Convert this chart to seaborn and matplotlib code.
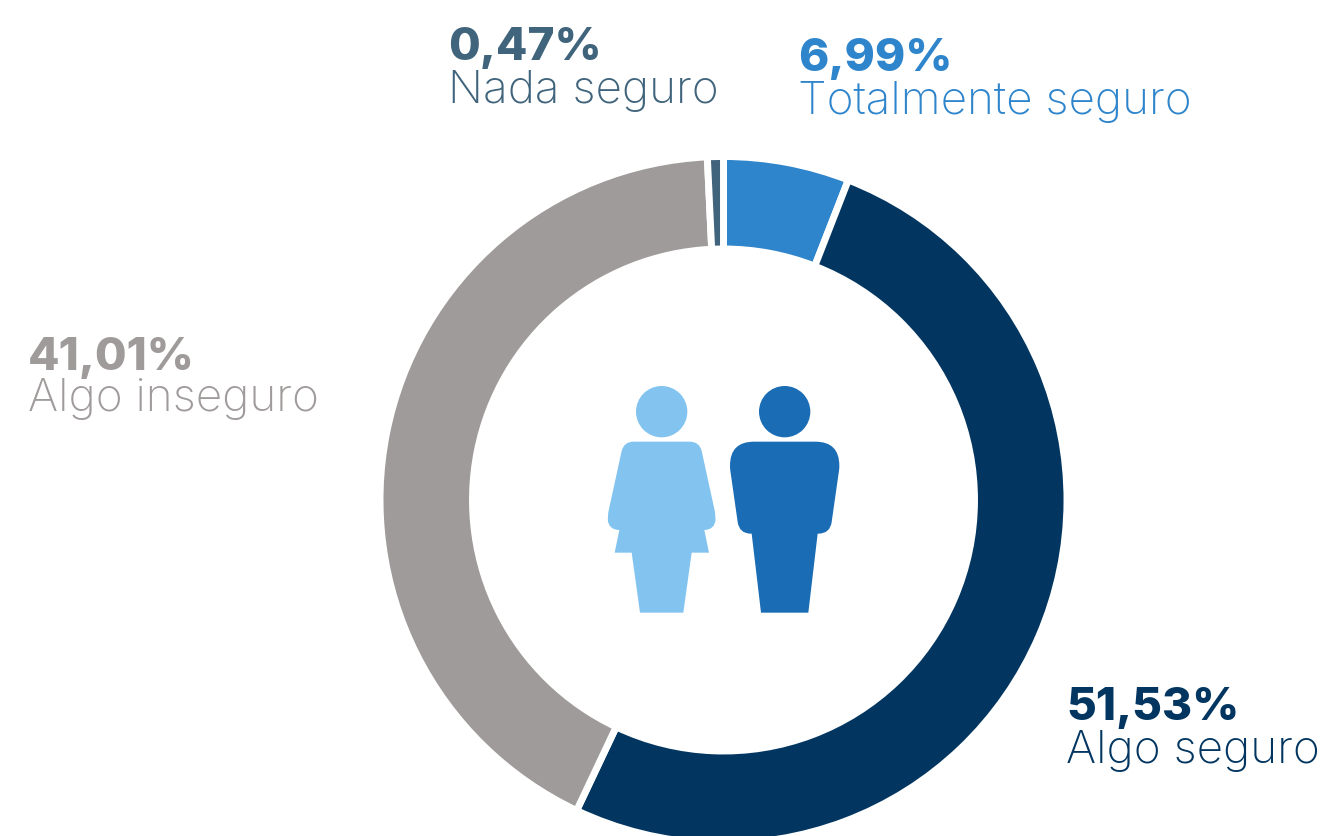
import numpy as np
import matplotlib
matplotlib.use('Agg')
import matplotlib.pyplot as plt
import seaborn as sns
from matplotlib.path import Path
from matplotlib.patches import PathPatch, Circle

# valores rotulados no grafico
categorias = ['Totalmente seguro', 'Algo seguro', 'Algo inseguro', 'Nada seguro']
rotulos = ['6,99%', '51,53%', '41,01%', '0,47%']
# tamanho dos arcos medido na figura (o original nao segue exatamente os rotulos)
arcos = [5.92, 51.11, 42.22, 0.75]
cores = ['#2E85CC', '#023660', '#9F9B9A', '#40647C']

W, H = 1337, 836
sns.set_theme(style='white')
plt.rcParams['font.family'] = ['Inter', 'DejaVu Sans']

fig = plt.figure(figsize=(W / 100, H / 100), dpi=100)
ax = fig.add_axes([0, 0, 1, 1])


def yy(y):
    # coordenadas em pixels da imagem, com y para baixo
    return H - y


wedges, _ = ax.pie(arcos, colors=sns.color_palette(cores), startangle=90, counterclock=False,
                   radius=343.5, center=(723.5, yy(500)),
                   wedgeprops={'width': 92.5, 'edgecolor': 'white', 'linewidth': 5})
ax.set_xlim(0, W)
ax.set_ylim(0, H)
ax.set_aspect('equal')
ax.axis('off')


def contorno(pts, x0=580, y0=370):
    """Poligono com cantos arredondados; pts = (x, y, raio) em pixels do zoom 3x"""
    p = np.array([[x0 + a / 3, yy(y0 + b / 3)] for a, b, _ in pts])
    rs = [r / 3 for _, _, r in pts]
    verts, codes = [], []
    n = len(p)
    for i in range(n):
        prev, cur, nxt = p[i - 1], p[i], p[(i + 1) % n]
        a = cur + (prev - cur) / np.linalg.norm(prev - cur) * rs[i]
        b = cur + (nxt - cur) / np.linalg.norm(nxt - cur) * rs[i]
        verts.append(a)
        codes.append(Path.MOVETO if i == 0 else Path.LINETO)
        verts += [cur, b]
        codes += [Path.CURVE3, Path.CURVE3]
    verts.append(verts[0])
    codes.append(Path.CLOSEPOLY)
    return Path(verts, codes)


mulher = [(131, 215, 30), (359, 215, 30), (408, 440, 20), (404, 480, 32), (373, 480, 0),
          (387, 548, 0), (335, 548, 0), (310, 728, 0), (180, 728, 0), (155, 548, 0),
          (104, 548, 0), (118, 480, 0), (86, 480, 32), (82, 440, 20)]
homem = [(450, 215, 72), (778, 215, 72), (778, 295, 6), (750, 491, 35), (713, 491, 0),
         (685, 728, 0), (543, 728, 0), (515, 491, 0), (478, 491, 35), (450, 295, 6)]

ax.add_patch(PathPatch(contorno(mulher), fc='#82C4EF', lw=0))
ax.add_patch(Circle((580 + 245 / 3, yy(370 + 125 / 3)), 77 / 3, fc='#82C4EF', lw=0))
ax.add_patch(PathPatch(contorno(homem), fc='#1A6CB4', lw=0))
ax.add_patch(Circle((580 + 614 / 3, yy(370 + 125 / 3)), 77 / 3, fc='#1A6CB4', lw=0))

# x, base do percentual, base do nome
pos_texto = [(798, 71, 114), (1066, 720, 763), (28, 370, 411), (448, 60, 103)]
for nome, rot, cor, (x, y1, y2) in zip(categorias, rotulos, cores, pos_texto):
    ax.text(x, yy(y1), rot, color=cor, fontsize=33, fontweight=800, va='baseline', ha='left')
    ax.text(x, yy(y2), nome, color=cor, fontsize=33, fontweight='light', va='baseline', ha='left')

fig.savefig('out.png', dpi=100)
